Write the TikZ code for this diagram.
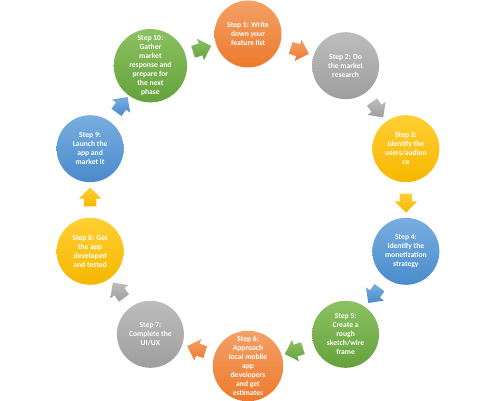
\documentclass[tikz,border=0pt]{standalone}
\usepackage{fontspec}
\setmainfont{Carlito}
\usetikzlibrary{shapes.arrows,calc}

\definecolor{orgtop}{HTML}{F4A066}
\definecolor{orgbot}{HTML}{EC7A2C}
\definecolor{grytop}{HTML}{BDBDBD}
\definecolor{grybot}{HTML}{9E9E9E}
\definecolor{yeltop}{HTML}{FFCF33}
\definecolor{yelbot}{HTML}{F7B700}
\definecolor{blutop}{HTML}{78AEE0}
\definecolor{blubot}{HTML}{4A8BCB}
\definecolor{grntop}{HTML}{8CC161}
\definecolor{grnbot}{HTML}{64A23C}

\begin{document}
\begin{tikzpicture}[x=1pt, y=-1pt,
  stepcirc/.style={circle, minimum size=67pt, inner sep=0pt, align=center,
    text=white, font=\fontsize{7.6}{9}\selectfont\bfseries},
  turnarrow/.style={single arrow, minimum height=19pt, inner xsep=0pt, inner ysep=6pt,
    single arrow head extend=5pt},
  orgfill/.style={top color=orgtop, bottom color=orgbot},
  gryfill/.style={top color=grytop, bottom color=grybot},
  yelfill/.style={top color=yeltop, bottom color=yelbot},
  blufill/.style={top color=blutop, bottom color=blubot},
  grnfill/.style={top color=grntop, bottom color=grnbot}]

  %% ════ step circles (ring centre 248,200; radius 166) ════
  \node[stepcirc, orgfill] (s1) at (248.0,34.0) {Step 1: Write\\down your\\feature list};
  \node[stepcirc, gryfill] (s2) at (345.6,65.7) {Step 2: Do\\the market\\research};
  \node[stepcirc, yelfill] (s3) at (405.9,148.7) {Step 3:\\Identify the\\users/audien\\ce};
  \node[stepcirc, blufill] (s4) at (405.9,251.3) {Step 4:\\Identify the\\monetization\\strategy};
  \node[stepcirc, grnfill] (s5) at (345.6,334.3) {Step 5:\\Create a\\rough\\sketch/wire\\frame};
  \node[stepcirc, orgfill] (s6) at (248.0,366.0) {Step 6:\\Approach\\local mobile\\app\\developers\\and get\\estimates};
  \node[stepcirc, gryfill] (s7) at (150.4,334.3) {Step 7:\\Complete the\\UI/UX};
  \node[stepcirc, yelfill] (s8) at (90.1,251.3) {Step 8: Get\\the app\\developed\\and tested};
  \node[stepcirc, blufill] (s9) at (90.1,148.7) {Step 9:\\Launch the\\app and\\market it};
  \node[stepcirc, grnfill] (s10) at (150.4,65.7) {Step 10:\\Gather\\market\\response and\\prepare for\\the next\\phase};

  %% ════ block arrows between neighbours (clockwise) ════
  \node[turnarrow, orgfill, rotate=-18]  (a1)  at ($(s1)!0.5!(s2)$)  {};
  \node[turnarrow, gryfill, rotate=-54]  (a2)  at ($(s2)!0.5!(s3)$)  {};
  \node[turnarrow, yelfill, rotate=-90]  (a3)  at ($(s3)!0.5!(s4)$)  {};
  \node[turnarrow, blufill, rotate=-126] (a4)  at ($(s4)!0.5!(s5)$)  {};
  \node[turnarrow, grnfill, rotate=-162] (a5)  at ($(s5)!0.5!(s6)$)  {};
  \node[turnarrow, orgfill, rotate=162]  (a6)  at ($(s6)!0.5!(s7)$)  {};
  \node[turnarrow, gryfill, rotate=126]  (a7)  at ($(s7)!0.5!(s8)$)  {};
  \node[turnarrow, yelfill, rotate=90]   (a8)  at ($(s8)!0.5!(s9)$)  {};
  \node[turnarrow, blufill, rotate=54]   (a9)  at ($(s9)!0.5!(s10)$) {};
  \node[turnarrow, grnfill, rotate=18]   (a10) at ($(s10)!0.5!(s1)$) {};

  % fix the canvas to the reference size
  \pgfresetboundingbox
  \path[use as bounding box] (0,0) rectangle (495,400);
\end{tikzpicture}
\end{document}
